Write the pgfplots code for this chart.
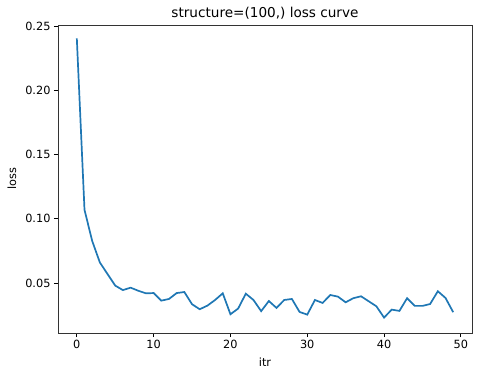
\documentclass[border=0pt]{standalone}
\usepackage{pgfplots}
\pgfplotsset{compat=1.18}
\usepackage{fontspec}
\setmainfont{DejaVu Sans}
\definecolor{mplblue}{HTML}{1F77B4}
\begin{document}
\begin{tikzpicture}
\path[use as bounding box] (-58pt,-45pt) rectangle (422pt,333pt);
\begin{axis}[
  at={(0,0)}, anchor=south west,
  scale only axis, width=414pt, height=308pt,
  xmin=-2.45, xmax=51.45, ymin=0.0111, ymax=0.2509,
  xtick={0,10,20,30,40,50},
  ytick={0.05,0.10,0.15,0.20,0.25},
  yticklabel style={/pgf/number format/fixed, /pgf/number format/fixed zerofill, /pgf/number format/precision=2},
  /pgf/number format/assume math mode=true,
  tick align=outside, tick pos=left,
  major tick length=4pt,
  every tick/.style={black, line width=0.9pt},
  axis line style={line width=0.9pt, black!80},
  tick label style={font=\fontsize{11.3}{13}\selectfont},
  title={structure=(100,) loss curve},
  every axis title/.style={at={(axis description cs:0.5,1)}, anchor=base, yshift=7pt, font=\fontsize{13.6}{16}\selectfont},
  xlabel={itr}, ylabel={loss},
  every axis x label/.style={at={(axis description cs:0.5,0)}, anchor=base, yshift=-34pt, font=\fontsize{11.3}{13}\selectfont},
  every axis y label/.style={at={(axis description cs:0,0.5)}, xshift=-46pt, rotate=90, anchor=center, font=\fontsize{11.3}{13}\selectfont},
]
\addplot[mplblue, line width=1.7pt] coordinates {
(0,0.2405) (1,0.107) (2,0.0828) (3,0.066) (4,0.057) (5,0.048) (6,0.0445) (7,0.0464) (8,0.044) (9,0.042)
(10,0.0422) (11,0.0363) (12,0.0376) (13,0.0422) (14,0.043) (15,0.0335) (16,0.0296) (17,0.0324) (18,0.0368) (19,0.042)
(20,0.0257) (21,0.0301) (22,0.0417) (23,0.0368) (24,0.0281) (25,0.036) (26,0.0306) (27,0.0368) (28,0.0376) (29,0.0275)
(30,0.0254) (31,0.0368) (32,0.0345) (33,0.0407) (34,0.0394) (35,0.035) (36,0.0382) (37,0.0397) (38,0.0358) (39,0.0319)
(40,0.0231) (41,0.0293) (42,0.0283) (43,0.0382) (44,0.0322) (45,0.0322) (46,0.0337) (47,0.0436) (48,0.0384) (49,0.0273)
};
\end{axis}
\end{tikzpicture}
\end{document}
